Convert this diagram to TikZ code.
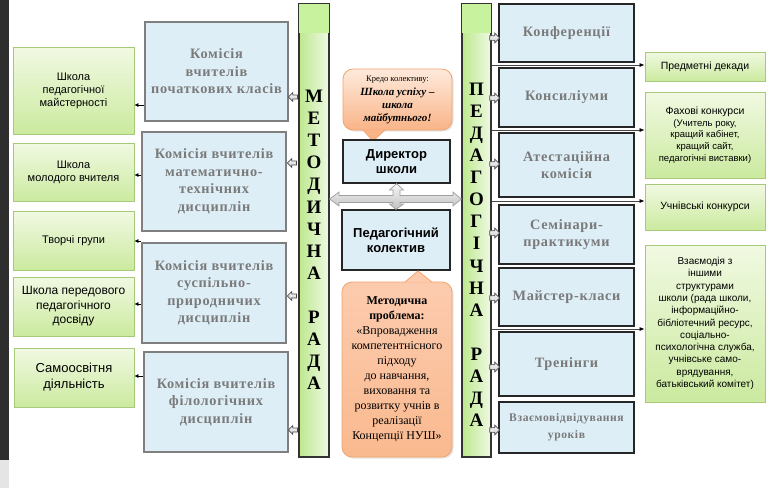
\documentclass[tikz,border=0pt]{standalone}
\usepackage{fontspec}
\setmainfont{Liberation Serif}
\setsansfont{Liberation Sans}
\newfontfamily\spacedserif[LetterSpace=5]{Liberation Serif}
\usetikzlibrary{arrows.meta,shapes.arrows,shadows}
\definecolor{blueF}{HTML}{DDEEF6}
\definecolor{grayB}{HTML}{7F7F7F}
\definecolor{grayT}{HTML}{7A7A7A}
\definecolor{greenB}{HTML}{A6C97A}
\definecolor{greenT}{HTML}{F1F9E2}
\definecolor{greenD}{HTML}{CBEA9F}
\definecolor{barL}{HTML}{BDE88E}
\definecolor{barR}{HTML}{EFF9E4}
\definecolor{barTop}{HTML}{C9F29E}
\definecolor{orB}{HTML}{F2A46C}
\definecolor{orT}{HTML}{FEEADC}
\definecolor{orD}{HTML}{F9B487}
\definecolor{orM}{HTML}{FCCBAE}
\begin{document}
\begin{tikzpicture}[x=1pt,y=-1pt,
  greenbox/.style={draw=greenB, line width=0.8pt, top color=greenT, bottom color=greenD,
    inner sep=2pt, align=center, font=\sffamily\fontsize{11}{13}\selectfont,
    drop shadow={opacity=0.25, shadow xshift=1pt, shadow yshift=-1pt}},
  combox/.style={draw=grayB, line width=2.6pt, fill=blueF, align=center, text=grayT,
    inner sep=2pt, font=\spacedserif\bfseries\fontsize{14.3}{17.5}\selectfont},
  rbox/.style={draw=black!85, line width=1.4pt, fill=blueF, align=center, text=grayT,
    inner sep=2pt, font=\spacedserif\bfseries\fontsize{14.3}{17}\selectfont},
  cbox/.style={draw=black!85, line width=1.3pt, fill=blueF, align=center,
    inner sep=2pt, font=\sffamily\bfseries\fontsize{13}{15}\selectfont},
  bar/.style={draw=black!80, line width=1.3pt, left color=barL, right color=barR, inner sep=0pt},
  barletters/.style={align=center, font=\bfseries\fontsize{19}{22.1}\selectfont},
  blkL/.style={single arrow, draw=black!70, top color=white, bottom color=gray!45,
    line width=0.7pt, minimum height=9pt, single arrow head extend=2.2pt, inner sep=1.7pt,
    shape border rotate=180},
  blkR/.style={blkL, shape border rotate=0, minimum height=10pt, single arrow head extend=2.5pt, inner sep=2pt},
  tiny/.style={-{Latex[length=4pt,width=4pt]}, black, line width=0.6pt},
  rconn/.style={draw=gray!55!black, line width=0.7pt, -{Latex[length=5pt,width=4pt,black]}},
  callout/.style={draw=orB, line width=0.8pt, rounded corners=10pt, align=center,
    drop shadow={opacity=0.2, shadow xshift=1.5pt, shadow yshift=-1.5pt}}
]
\useasboundingbox (0,0) rectangle (772,488);
\fill[white] (0,0) rectangle (772,488);
\fill[black!82] (0,0) rectangle (9,460);
\fill[black!10] (0,460) rectangle (9,488);

% left green boxes
\node[greenbox, minimum width=121pt, minimum height=87pt] (g1) at (73.5,90.5) {Школа\\педагогічної\\майстерності};
\node[greenbox, minimum width=121pt, minimum height=58pt] (g2) at (73.5,172) {Школа\\молодого вчителя};
\node[greenbox, minimum width=121pt, minimum height=59pt] (g3) at (73.5,240.5) {Творчі групи};
\node[greenbox, minimum width=121pt, minimum height=59pt, font=\sffamily\fontsize{12}{14.5}\selectfont] (g4) at (73.5,306.5) {Школа передового\\педагогічного\\досвіду};
\node[greenbox, minimum width=120pt, minimum height=59pt, font=\sffamily\fontsize{13}{16}\selectfont] (g5) at (74,377.5) {Самоосвітня\\діяльність};

% commission boxes
\node[combox, minimum width=143pt, minimum height=99pt] (c1) at (216.5,71.5) {Комісія\\вчителів\\початкових класів};
\node[combox, minimum width=144pt, minimum height=99pt] (c2) at (214,181.5) {Комісія вчителів\\математично-\\технічних\\дисциплін};
\node[combox, minimum width=144pt, minimum height=100pt] (c3) at (214,293) {Комісія вчителів\\суспільно-\\природничих\\дисциплін};
\node[combox, minimum width=144pt, minimum height=100pt] (c4) at (216,402) {Комісія вчителів\\філологічних\\дисциплін};

% bars
\node[bar, minimum width=30pt, minimum height=453pt] (met) at (314,230.5) {};
\fill[barTop] (met.north west) rectangle (met.east |- 0,33);
\draw[black!80, line width=1.3pt] (met.north west) rectangle (met.south east);
\node[barletters] (metL) at (314,240) {М\\Е\\Т\\О\\Д\\И\\Ч\\Н\\А\\[22.1pt]Р\\А\\Д\\А};

\node[bar, minimum width=29pt, minimum height=453pt] (ped) at (476.5,230.5) {};
\fill[barTop] (ped.north west) rectangle (ped.east |- 0,33);
\draw[black!80, line width=1.3pt] (ped.north west) rectangle (ped.south east);
\node[barletters] (pedL) at (476.5,254.8) {П\\Е\\Д\\А\\Г\\О\\Г\\І\\Ч\\Н\\А\\[22.1pt]Р\\А\\Д\\А};

% centre
\node[callout, top color=orT, bottom color=orD, minimum width=109pt, minimum height=61pt, inner sep=1pt,
  font=\fontsize{11}{13}\selectfont] (credo) at (397.5,99.5)
  {{\fontsize{8.5}{10}\selectfont Кредо колективу:}\\[1pt]
   \textbf{\textit{Школа успіху –}}\\\textbf{\textit{школа}}\\\textbf{\textit{майбутнього!}}};
\fill[orD] (363,129.6) -- (373,141) -- (385,129.6) -- cycle;
\draw[orB, line width=0.8pt] (363,130) -- (373,141) -- (385,130);

\node[cbox, minimum width=107pt, minimum height=43pt] (dir) at (396.5,161.5) {Директор\\школи};
\node[cbox, minimum width=108pt, minimum height=60pt] (team) at (396,240) {Педагогічний\\колектив};

\node[callout, top color=orM, bottom color=orD!90!orT, minimum width=110pt, minimum height=175pt, inner sep=1pt,
  font=\fontsize{12}{15}\selectfont] (prob) at (397,369.5)
  {\textbf{Методична}\\\textbf{проблема:}\\«Впровадження\\компетентнісного\\підходу\\до навчання,\\виховання та\\розвитку учнів в\\реалізації\\Концепції НУШ»};
\fill[orM] (405,282.4) -- (418,271) -- (432,282.4) -- cycle;
\draw[orB, line width=0.8pt] (405,282) -- (418,271) -- (432,282);

% cross double arrow
\path[draw=gray!75, line width=0.7pt, top color=gray!5, bottom color=gray!50]
  (met.east |- 0,199) -- (339,192) -- (339,195.5) -- (393,195.5) -- (393,190) -- (389.5,190)
  -- (dir.south) -- (403.5,190) -- (400,190) -- (400,195.5) -- (453,195.5) -- (453,192)
  -- (ped.west |- 0,199) -- (453,206) -- (453,202.5) -- (400,202.5) -- (400,204) -- (403.5,204)
  -- (team.north) -- (389.5,204) -- (393,204) -- (393,202.5) -- (339,202.5) -- (339,206) -- cycle;

% right blue boxes
\node[rbox, minimum width=135pt, minimum height=58pt] (r1) at (566.5,33) {Конференції};
\node[rbox, minimum width=135pt, minimum height=59pt] (r2) at (566.5,97.5) {Консиліуми};
\node[rbox, minimum width=135pt, minimum height=64pt] (r3) at (566.5,165) {Атестаційна\\комісія};
\node[rbox, minimum width=135pt, minimum height=59pt] (r4) at (566.5,234.5) {Семінари-\\практикуми};
\node[rbox, minimum width=135pt, minimum height=58pt] (r5) at (566.5,297) {Майстер-класи};
\node[rbox, minimum width=135pt, minimum height=64pt] (r6) at (566.5,364) {Тренінги};
\node[rbox, minimum width=135pt, minimum height=51pt, font=\spacedserif\bfseries\fontsize{11.6}{17}\selectfont] (r7) at (566.5,427.5) {Взаємовідвідування\\уроків};

% right green boxes
\node[greenbox, minimum width=120pt, minimum height=29pt, font=\sffamily\fontsize{10.5}{12}\selectfont] (q1) at (705,66.5) {Предметні декади};
\node[greenbox, minimum width=120pt, minimum height=86pt, font=\sffamily\fontsize{9.5}{11.8}\selectfont] (q2) at (705,135)
  {{\fontsize{10.5}{12}\selectfont Фахові конкурси}\\(Учитель року,\\кращий кабінет,\\кращий сайт,\\педагогічні виставки)};
\node[greenbox, minimum width=120pt, minimum height=46pt, font=\sffamily\fontsize{10.5}{12}\selectfont] (q3) at (705,207) {Учнівські конкурси};
\node[greenbox, minimum width=120pt, minimum height=157pt, font=\sffamily\fontsize{10}{12.3}\selectfont] (q4) at (705,323.5)
  {Взаємодія з\\іншими\\структурами\\школи (рада школи,\\інформаційно-\\бібліотечний ресурс,\\соціально-\\психологічна служба,\\учнівське само-\\врядування,\\батьківський комітет)};

% connectors: commissions -> left green boxes
\draw[tiny] (c1.west |- 0,105) -- (g1.east |- 0,105);
\draw[tiny] (c2.west |- 0,175) -- (g2.east |- 0,175);
\draw[tiny] (c2.west |- 0,241) -- (g3.east |- 0,241);
\draw[tiny] (c3.west |- 0,304) -- (g4.east |- 0,304);
\draw[tiny] (c4.west |- 0,376) -- (g5.east |- 0,376);

% block arrows: methodical council -> commissions
\node[blkL] (a1) at (294,97) {};
\node[blkL] (a2) at (293,163) {};
\node[blkL] (a3) at (293,296) {};
\node[blkL] (a4) at (294,430) {};

% block arrows: pedagogical council -> right boxes
\node[blkR] (b1) at (493.5,38) {};
\node[blkR] (b2) at (493.5,98) {};
\node[blkR] (b3) at (493.5,164) {};
\node[blkR] (b4) at (493.5,233) {};
\node[blkR] (b5) at (493.5,298) {};
\node[blkR] (b6) at (493.5,367) {};
\node[blkR] (b7) at (493.5,430) {};

% connectors: pedagogical council -> right green boxes
\draw[rconn] (ped.east |- 0,65) -- (q1.west |- 0,65);
\draw[rconn] (ped.east |- 0,130) -- (q2.west |- 0,130);
\draw[rconn] (ped.east |- 0,201) -- (q3.west |- 0,201);
\draw[rconn] (ped.east |- 0,329) -- (q4.west |- 0,329);
\end{tikzpicture}
\end{document}
